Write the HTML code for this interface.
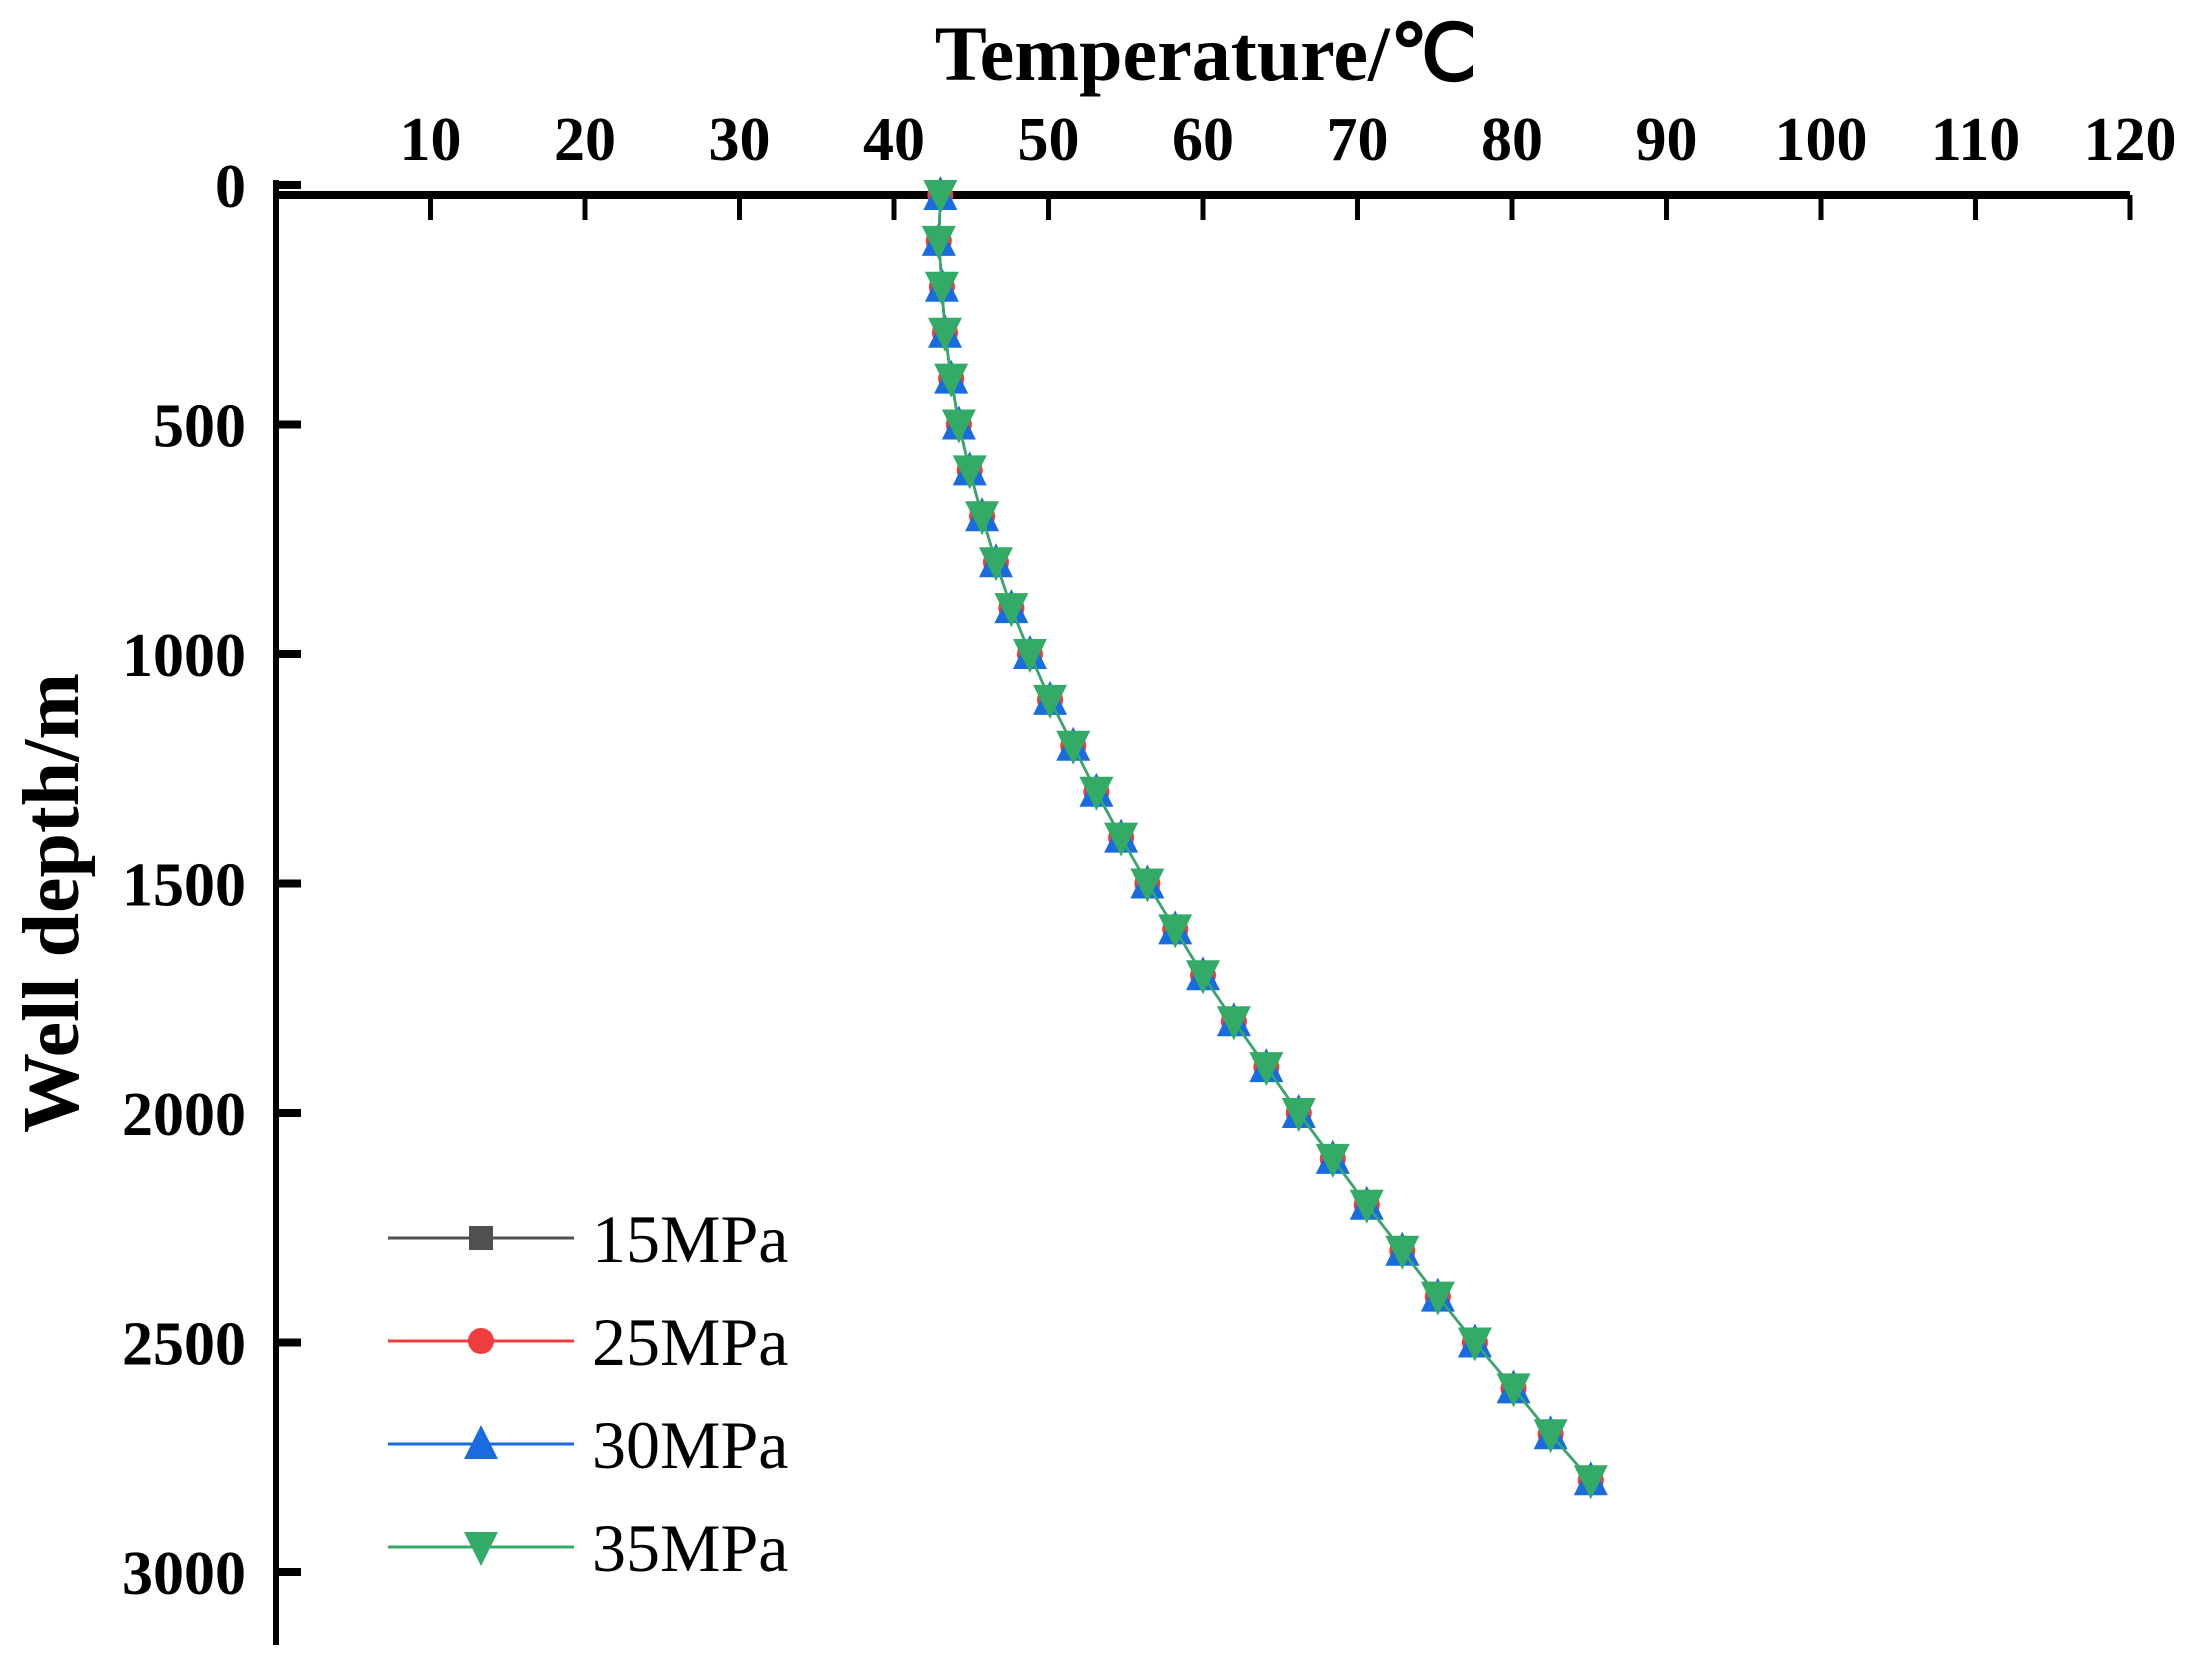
<!DOCTYPE html>
<html><head><meta charset="utf-8"><style>
html,body{margin:0;padding:0;background:#fff;}
svg{display:block;font-family:"Liberation Serif",serif;}
</style></head><body>
<svg id="chart" width="2186" height="1680" viewBox="0 0 2186 1680" xmlns="http://www.w3.org/2000/svg">
<text x="1206" y="80" font-size="78" font-weight="bold" text-anchor="middle">Temperature/℃</text>
<text transform="translate(78,903) rotate(-90)" font-size="80" font-weight="bold" text-anchor="middle">Well depth/m</text>
<g id="axes"></g>
<g id="series"></g>
<g id="legend"></g>
</svg>
<script>
const depths = [0,100,200,300,400,500,600,700,800,900,1000,1100,1200,1300,1400,1500,1600,1700,1800,1900,2000,2100,2200,2300,2400,2500,2600,2700,2800];
const temp15 = [43.0,42.9,43.1,43.3,43.7,44.2,44.9,45.7,46.6,47.6,48.8,50.1,51.6,53.1,54.7,56.4,58.2,60.0,62.0,64.1,66.2,68.4,70.6,72.9,75.2,77.6,80.1,82.5,85.1];
const temp25 = [43.0,42.9,43.1,43.3,43.7,44.2,44.9,45.7,46.6,47.6,48.8,50.1,51.6,53.1,54.7,56.4,58.2,60.0,62.0,64.1,66.2,68.4,70.6,72.9,75.2,77.6,80.1,82.5,85.1];
const temp30 = [43.0,42.9,43.1,43.3,43.7,44.2,44.9,45.7,46.6,47.6,48.8,50.1,51.6,53.1,54.7,56.4,58.2,60.0,62.0,64.1,66.2,68.4,70.6,72.9,75.2,77.6,80.1,82.5,85.1];
const temp35 = [43.0,42.9,43.1,43.3,43.7,44.2,44.9,45.7,46.6,47.6,48.8,50.1,51.6,53.1,54.7,56.4,58.2,60.0,62.0,64.1,66.2,68.4,70.6,72.9,75.2,77.6,80.1,82.5,85.1];
const xTicks = [10,20,30,40,50,60,70,80,90,100,110,120];
const yTicks = [0,500,1000,1500,2000,2500,3000];
const seriesNames = ["15MPa","25MPa","30MPa","35MPa"];

const NS="http://www.w3.org/2000/svg";
const X0=276, X1=2130, Y0=195, Y1=1572;
function xs(t){return X0+(t/120)*(X1-X0);}
function ys(d){return Y0+(d/3000)*(Y1-Y0);}
function mk(tag,parent,attrs){const e=document.createElementNS(NS,tag);for(const k in attrs)e.setAttribute(k,attrs[k]);parent.appendChild(e);return e;}

const axes=document.getElementById('axes');
let a=mk('line',axes,{x1:X0,y1:Y0,x2:X1,y2:Y0,stroke:'#000','stroke-width':8});


a=mk('line',axes,{x1:X0,y1:180,x2:X0,y2:1645,stroke:'#000','stroke-width':6});


xTicks.forEach(t=>{
  const l=mk('line',axes,{x1:xs(t),y1:Y0,x2:xs(t),y2:Y0+25,stroke:'#000','stroke-width':5});
  
  
  const tx=mk('text',axes,{x:xs(t),y:160,'font-size':62,'font-weight':'bold','text-anchor':'middle'});
  tx.textContent=t;
  
  
});
yTicks.forEach(d=>{
  const yy = d===0 ? Y0-10 : ys(d);
  const l=mk('line',axes,{x1:X0,y1:yy,x2:X0+25,y2:yy,stroke:'#000','stroke-width':8});
  
  
  const tx=mk('text',axes,{x:246,y:yy+22,'font-size':62,'font-weight':'bold','text-anchor':'end'});
  tx.textContent=d;
  
  
});

const colors=['#505050','#ee3d3d','#1a6be0','#33aa66'];
const data=[temp15,temp25,temp30,temp35];
function marker(g,type,cx,cy,c){
  const s=17;
  if(type===0) return mk('rect',g,{x:cx-12,y:cy-12,width:24,height:24,fill:c});
  if(type===1) return mk('circle',g,{cx:cx,cy:cy,r:13,fill:c});
  if(type===2) return mk('polygon',g,{points:`${cx},${cy-s-2} ${cx-s},${cy+s-2} ${cx+s},${cy+s-2}`,fill:c});
  return mk('polygon',g,{points:`${cx-s},${cy-s+2} ${cx+s},${cy-s+2} ${cx},${cy+s+2}`,fill:c});
}
const sg=document.getElementById('series');
data.forEach((arr,i)=>{
  const g=mk('g',sg,{});
  
  
  const pts=arr.map((t,j)=>xs(t)+','+ys(depths[j])).join(' ');
  const pl=mk('polyline',g,{points:pts,fill:'none',stroke:colors[i],'stroke-width':2.5});
  
  
  arr.forEach((t,j)=>{
    const m=marker(g,i,xs(t),ys(depths[j]),colors[i]);
    
    
  });
});

const lg=document.getElementById('legend');
const rows=[1238,1341,1444,1547];
seriesNames.forEach((n,i)=>{
  const g=mk('g',lg,{});
  
  
  mk('line',g,{x1:388,y1:rows[i],x2:574,y2:rows[i],stroke:colors[i],'stroke-width':3});
  marker(g,i,481,rows[i],colors[i]);
  const t=mk('text',g,{x:592,y:rows[i]+24,'font-size':68});
  t.textContent=n;
});
</script>
</body></html>
